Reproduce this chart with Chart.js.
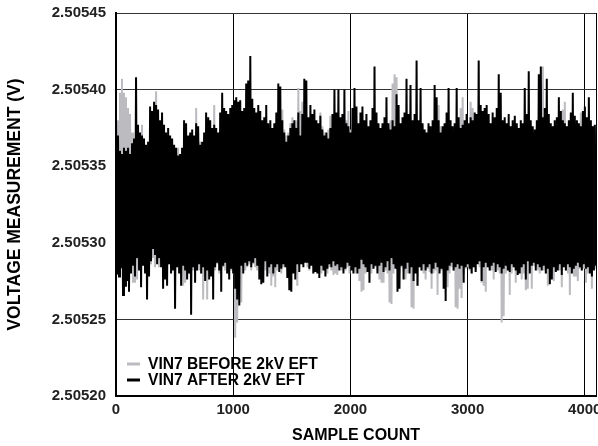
<!DOCTYPE html>
<html><head><meta charset="utf-8">
<script src="https://cdn.jsdelivr.net/npm/chart.js@4.4.1/dist/chart.umd.min.js"></script>
<style>html,body{margin:0;padding:0;background:#fff;}#wrap{width:598px;height:446px;position:relative;}</style>
</head><body><div id="wrap"><canvas id="c" width="598" height="446"></canvas></div>
<script>
const seriesLabels = ['VIN7 BEFORE 2kV EFT', 'VIN7 AFTER 2kV EFT'];
const seriesColors = ['#bcbcc0', '#000000'];

const vin7Before = [
2.505372,2.505284,2.505380,2.505282,2.505398,2.505286,2.505407,2.505280,2.505398,2.505284,2.505395,2.505278,2.505388,2.505282,2.505384,2.505286,2.505372,2.505274,2.505366,2.505274,
2.505362,2.505276,2.505360,2.505284,2.505365,2.505280,2.505377,2.505286,2.505368,2.505282,2.505362,2.505288,2.505366,2.505284,2.505370,2.505286,2.505375,2.505290,2.505385,2.505284,
2.505399,2.505288,2.505380,2.505284,2.505372,2.505286,2.505366,2.505280,2.505368,2.505284,2.505364,2.505282,2.505366,2.505286,2.505362,2.505284,2.505360,2.505288,2.505358,2.505282,
2.505356,2.505284,2.505362,2.505286,2.505355,2.505282,2.505358,2.505272,2.505364,2.505274,2.505360,2.505284,2.505362,2.505280,2.505358,2.505286,2.505362,2.505282,2.505366,2.505284,
2.505388,2.505286,2.505372,2.505282,2.505366,2.505280,2.505364,2.505263,2.505368,2.505278,2.505370,2.505263,2.505366,2.505280,2.505368,2.505284,2.505372,2.505286,2.505390,2.505282,
2.505372,2.505286,2.505370,2.505280,2.505368,2.505282,2.505372,2.505284,2.505376,2.505282,2.505370,2.505280,2.505374,2.505284,2.505378,2.505282,2.505383,2.505280,2.505376,2.505238,
2.505378,2.505248,2.505374,2.505284,2.505376,2.505261,2.505372,2.505286,2.505374,2.505282,2.505376,2.505284,2.505372,2.505286,2.505378,2.505282,2.505374,2.505286,2.505370,2.505284,
2.505372,2.505282,2.505368,2.505286,2.505374,2.505280,2.505370,2.505284,2.505372,2.505282,2.505368,2.505286,2.505372,2.505280,2.505374,2.505272,2.505370,2.505278,2.505372,2.505271,
2.505370,2.505282,2.505376,2.505284,2.505372,2.505280,2.505387,2.505284,2.505374,2.505286,2.505370,2.505282,2.505372,2.505280,2.505378,2.505284,2.505382,2.505282,2.505376,2.505286,
2.505380,2.505272,2.505401,2.505284,2.505386,2.505286,2.505392,2.505291,2.505378,2.505288,2.505374,2.505284,2.505372,2.505282,2.505376,2.505286,2.505370,2.505280,2.505374,2.505284,
2.505372,2.505282,2.505370,2.505286,2.505385,2.505280,2.505376,2.505284,2.505372,2.505282,2.505370,2.505280,2.505374,2.505284,2.505383,2.505282,2.505372,2.505279,2.505370,2.505280,
2.505374,2.505279,2.505372,2.505284,2.505370,2.505282,2.505374,2.505286,2.505372,2.505282,2.505380,2.505284,2.505386,2.505280,2.505374,2.505284,2.505372,2.505282,2.505370,2.505280,
2.505372,2.505284,2.505370,2.505275,2.505374,2.505268,2.505376,2.505269,2.505372,2.505280,2.505370,2.505284,2.505374,2.505282,2.505372,2.505280,2.505376,2.505283,2.505372,2.505284,
2.505370,2.505282,2.505374,2.505276,2.505372,2.505274,2.505376,2.505274,2.505374,2.505282,2.505372,2.505280,2.505376,2.505261,2.505380,2.505260,2.505404,2.505280,2.505410,2.505284,
2.505408,2.505282,2.505390,2.505280,2.505376,2.505284,2.505374,2.505282,2.505372,2.505276,2.505376,2.505280,2.505374,2.505284,2.505380,2.505258,2.505374,2.505257,2.505372,2.505282,
2.505376,2.505272,2.505374,2.505284,2.505372,2.505282,2.505376,2.505280,2.505374,2.505276,2.505372,2.505283,2.505376,2.505281,2.505374,2.505270,2.505372,2.505280,2.505376,2.505282,
2.505378,2.505266,2.505390,2.505284,2.505376,2.505282,2.505374,2.505280,2.505372,2.505284,2.505376,2.505271,2.505374,2.505280,2.505372,2.505284,2.505376,2.505282,2.505374,2.505258,
2.505372,2.505257,2.505376,2.505270,2.505388,2.505264,2.505395,2.505280,2.505376,2.505283,2.505374,2.505284,2.505372,2.505282,2.505392,2.505280,2.505388,2.505284,2.505376,2.505282,
2.505374,2.505290,2.505372,2.505284,2.505376,2.505274,2.505374,2.505272,2.505372,2.505268,2.505376,2.505284,2.505374,2.505282,2.505372,2.505282,2.505376,2.505276,2.505374,2.505284,
2.505372,2.505282,2.505376,2.505280,2.505374,2.505248,2.505372,2.505252,2.505376,2.505280,2.505374,2.505284,2.505372,2.505266,2.505376,2.505280,2.505374,2.505284,2.505372,2.505274,
2.505376,2.505280,2.505374,2.505284,2.505372,2.505276,2.505376,2.505280,2.505374,2.505269,2.505372,2.505270,2.505376,2.505282,2.505377,2.505270,2.505374,2.505285,2.505372,2.505284,
2.505376,2.505282,2.505374,2.505280,2.505405,2.505284,2.505415,2.505282,2.505380,2.505280,2.505376,2.505272,2.505374,2.505282,2.505372,2.505280,2.505376,2.505275,2.505374,2.505282,
2.505372,2.505284,2.505376,2.505282,2.505374,2.505271,2.505387,2.505284,2.505392,2.505282,2.505376,2.505280,2.505374,2.505266,2.505372,2.505282,2.505376,2.505278,2.505374,2.505278,
2.505372,2.505275,2.505376,2.505283,2.505385,2.505282,2.505374,2.505283,2.505372,2.505274,2.505376,2.505280,2.505374,2.505282,2.505372,2.505270,2.505376,2.505283,2.505374,2.505283
];

const vin7After = [
2.505383,2.505280,2.505370,2.505278,2.505360,2.505284,2.505358,2.505266,2.505362,2.505272,2.505360,2.505275,2.505362,2.505268,2.505358,2.505280,2.505365,2.505285,2.505368,2.505278,
2.505408,2.505290,2.505377,2.505282,2.505372,2.505271,2.505370,2.505285,2.505368,2.505280,2.505364,2.505263,2.505366,2.505278,2.505389,2.505288,2.505386,2.505296,2.505392,2.505292,
2.505390,2.505286,2.505387,2.505290,2.505380,2.505284,2.505385,2.505270,2.505377,2.505276,2.505372,2.505272,2.505375,2.505286,2.505370,2.505280,2.505368,2.505282,2.505364,2.505257,
2.505362,2.505284,2.505357,2.505280,2.505358,2.505272,2.505362,2.505285,2.505380,2.505282,2.505378,2.505276,2.505370,2.505280,2.505372,2.505253,2.505374,2.505284,2.505370,2.505274,
2.505378,2.505282,2.505376,2.505286,2.505364,2.505280,2.505366,2.505284,2.505372,2.505275,2.505385,2.505282,2.505382,2.505276,2.505380,2.505278,2.505375,2.505263,2.505377,2.505284,
2.505375,2.505287,2.505372,2.505282,2.505385,2.505268,2.505398,2.505285,2.505388,2.505287,2.505386,2.505280,2.505384,2.505276,2.505388,2.505283,2.505390,2.505280,2.505393,2.505270,
2.505395,2.505263,2.505392,2.505259,2.505393,2.505285,2.505386,2.505280,2.505388,2.505287,2.505404,2.505285,2.505406,2.505288,2.505422,2.505284,2.505394,2.505287,2.505388,2.505290,
2.505385,2.505285,2.505390,2.505276,2.505386,2.505273,2.505380,2.505274,2.505382,2.505288,2.505390,2.505278,2.505378,2.505284,2.505380,2.505286,2.505375,2.505280,2.505378,2.505284,
2.505385,2.505286,2.505404,2.505281,2.505402,2.505283,2.505380,2.505286,2.505372,2.505284,2.505366,2.505277,2.505370,2.505269,2.505375,2.505268,2.505378,2.505280,2.505380,2.505276,
2.505375,2.505286,2.505385,2.505281,2.505370,2.505286,2.505384,2.505284,2.505407,2.505287,2.505406,2.505287,2.505382,2.505283,2.505390,2.505285,2.505384,2.505280,2.505387,2.505281,
2.505380,2.505280,2.505378,2.505277,2.505383,2.505285,2.505374,2.505282,2.505370,2.505278,2.505372,2.505283,2.505368,2.505286,2.505375,2.505284,2.505384,2.505288,2.505400,2.505285,
2.505385,2.505286,2.505400,2.505282,2.505382,2.505284,2.505384,2.505280,2.505400,2.505283,2.505378,2.505287,2.505376,2.505285,2.505372,2.505282,2.505388,2.505280,2.505401,2.505284,
2.505389,2.505280,2.505378,2.505283,2.505385,2.505289,2.505389,2.505286,2.505380,2.505284,2.505384,2.505281,2.505376,2.505274,2.505380,2.505286,2.505388,2.505283,2.505415,2.505285,
2.505385,2.505280,2.505378,2.505285,2.505375,2.505287,2.505378,2.505281,2.505382,2.505284,2.505395,2.505288,2.505378,2.505282,2.505374,2.505290,2.505380,2.505286,2.505376,2.505283,
2.505397,2.505268,2.505390,2.505270,2.505378,2.505285,2.505382,2.505276,2.505385,2.505283,2.505407,2.505287,2.505384,2.505280,2.505403,2.505284,2.505380,2.505275,2.505384,2.505280,
2.505419,2.505272,2.505380,2.505284,2.505401,2.505282,2.505378,2.505286,2.505374,2.505282,2.505372,2.505284,2.505378,2.505286,2.505376,2.505280,2.505380,2.505283,2.505403,2.505287,
2.505395,2.505284,2.505380,2.505280,2.505372,2.505283,2.505376,2.505270,2.505378,2.505262,2.505385,2.505282,2.505401,2.505285,2.505380,2.505287,2.505376,2.505282,2.505378,2.505284,
2.505401,2.505286,2.505382,2.505283,2.505375,2.505285,2.505377,2.505274,2.505380,2.505284,2.505384,2.505286,2.505378,2.505283,2.505382,2.505280,2.505380,2.505284,2.505385,2.505281,
2.505384,2.505286,2.505419,2.505288,2.505390,2.505275,2.505386,2.505284,2.505388,2.505287,2.505390,2.505284,2.505384,2.505282,2.505378,2.505285,2.505385,2.505287,2.505382,2.505281,
2.505388,2.505286,2.505410,2.505284,2.505398,2.505280,2.505380,2.505283,2.505382,2.505285,2.505378,2.505282,2.505384,2.505281,2.505376,2.505286,2.505380,2.505284,2.505383,2.505282,
2.505378,2.505279,2.505375,2.505280,2.505380,2.505284,2.505378,2.505286,2.505401,2.505276,2.505384,2.505288,2.505412,2.505280,2.505380,2.505285,2.505376,2.505287,2.505374,2.505282,
2.505380,2.505286,2.505410,2.505284,2.505415,2.505282,2.505382,2.505285,2.505388,2.505280,2.505407,2.505283,2.505384,2.505273,2.505378,2.505276,2.505376,2.505284,2.505380,2.505281,
2.505382,2.505282,2.505395,2.505286,2.505386,2.505279,2.505380,2.505284,2.505378,2.505282,2.505376,2.505286,2.505380,2.505284,2.505385,2.505280,2.505398,2.505283,2.505383,2.505285,
2.505380,2.505287,2.505378,2.505284,2.505376,2.505282,2.505386,2.505286,2.505389,2.505283,2.505382,2.505284,2.505395,2.505280,2.505380,2.505278,2.505376,2.505282,2.505377,2.505285
];

// sample number of each plotted reading (evenly spaced over the 4096-sample record)
const sampleCounts = vin7After.map((_, i) => Math.round(i * 4095 / (vin7After.length - 1)));

const yTickValues = [2.50520, 2.50525, 2.50530, 2.50535, 2.50540, 2.50545];
const yTickLabels = ['2.50520', '2.50525', '2.50530', '2.50535', '2.50540', '2.50545'];
const xTickValues = [0, 1000, 2000, 3000, 4000, 4096];
const xTickLabels = ['0', '1000', '2000', '3000', '4000', ''];

const FONT = '"Liberation Sans", Arial, Helvetica, sans-serif';
Chart.defaults.font.family = FONT;

const insideLegend = {
  id: 'insideLegend',
  afterDatasetsDraw(chart) {
    const { ctx, chartArea } = chart;
    ctx.save();
    ctx.font = 'bold 15.6px ' + FONT;
    ctx.textBaseline = 'middle';
    ctx.textAlign = 'left';
    chart.data.datasets.forEach((ds, i) => {
      const y = chartArea.bottom - 32 + i * 16;
      ctx.strokeStyle = ds.borderColor;
      ctx.lineWidth = 3;
      ctx.beginPath();
      ctx.moveTo(chartArea.left + 11, y);
      ctx.lineTo(chartArea.left + 24, y);
      ctx.stroke();
      ctx.fillStyle = '#000';
      ctx.fillText(ds.label, chartArea.left + 32, y + 0.5);
    });
    ctx.restore();
  }
};

new Chart(document.getElementById('c'), {
  type: 'line',
  data: {
    datasets: [
      { label: seriesLabels[0], data: vin7Before.map((v, i) => ({ x: sampleCounts[i], y: v })),
        borderColor: seriesColors[0], borderWidth: 2, pointRadius: 0, tension: 0, order: 2 },
      { label: seriesLabels[1], data: vin7After.map((v, i) => ({ x: sampleCounts[i], y: v })),
        borderColor: seriesColors[1], borderWidth: 2, pointRadius: 0, tension: 0, order: 1 }
    ]
  },
  options: {
    responsive: false,
    animation: false,
    devicePixelRatio: 1,
    layout: { padding: { top: 13, right: 2, left: 0, bottom: 0 } },
    plugins: { legend: { display: false }, tooltip: { enabled: false } },
    scales: {
      x: {
        type: 'linear', min: 0, max: 4096,
        afterBuildTicks: s => { s.ticks = xTickValues.map(v => ({ value: v })); },
        afterFit: s => { s.height = 50; s.paddingLeft = 0; s.paddingRight = 0; },
        ticks: { autoSkip: false, maxRotation: 0, padding: 5, color: '#222',
          font: { size: 15, weight: 'bold' },
          callback: (v, i) => xTickLabels[i] },
        grid: { color: '#000', lineWidth: 1, drawTicks: false },
        border: { display: true, color: '#000', width: 2 },
        title: { display: true, text: 'SAMPLE COUNT', color: '#000',
          font: { size: 16, weight: 'bold' }, padding: { top: 0, bottom: 1 } }
      },
      y: {
        type: 'linear', min: 2.50520, max: 2.50545,
        afterBuildTicks: s => { s.ticks = yTickValues.map(v => ({ value: v })); },
        afterFit: s => { s.width = 116; s.paddingTop = 0; s.paddingBottom = 0; },
        ticks: { autoSkip: false, padding: 10, color: '#222',
          font: { size: 15, weight: 'bold' },
          callback: (v, i) => yTickLabels[i] },
        grid: { color: '#333', lineWidth: 1, drawTicks: false },
        border: { display: true, color: '#000', width: 2 },
        title: { display: true, text: 'VOLTAGE MEASUREMENT (V)', color: '#000',
          font: { size: 17.5, weight: 'bold' }, padding: { top: 5, bottom: 0 } }
      }
    }
  },
  plugins: [insideLegend]
});
</script>
</body></html>
